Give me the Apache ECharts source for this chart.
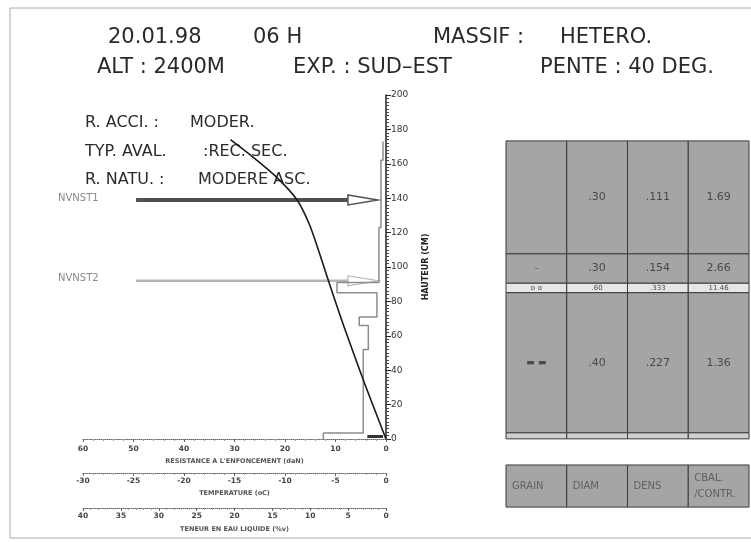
<!DOCTYPE html>
<html><head><meta charset="utf-8">
<script src="https://cdn.jsdelivr.net/npm/echarts@6/dist/echarts.min.js"></script>
<style>html,body{margin:0;padding:0;background:#fff}#c{width:751px;height:542px}</style>
</head><body><div id="c"></div>
<script>
// ---- data ----
const tempC = [0, -2.1, -4.2, -5.7, -6.7, -7.6, -8.8, -10.8, -13.2, -15.4];
const tempH = [0, 32, 66, 92, 110, 125, 139, 152, 164, 174];

const resBottom = [0, 3.5, 52, 66, 71, 85, 91, 123, 162];
const resTop    = [3.5, 52, 66, 71, 85, 91, 123, 162, 173];
const resValue  = [12.4, 4.5, 3.5, 5.3, 1.8, 9.7, 1.4, 1.0, 0.6];

const baseBar = [0.6, 3.7];
const baseBarH = 1.5;

const nvnstNames = ['NVNST1', 'NVNST2'];
const nvnstHeights = [139, 92];
const arrowFrom = 49.5;
const arrowTo = 1.6;

const tableTop    = [173.3, 107.6, 90.5, 85, 3.5];
const tableBottom = [107.6, 90.5, 85, 3.5, 0];
const grainCol = ['', '-', 'ɒ ɑ', '▬ ▬', ''];
const diamCol  = ['.30', '.30', '.60', '.40', ''];
const densCol  = ['.111', '.154', '.333', '.227', ''];
const cbalCol  = ['1.69', '2.66', '11.46', '1.36', ''];
const legendLabels = ['GRAIN', 'DIAM', 'DENS', 'CBAL.\n/CONTR.'];
const legendTop = -15.2, legendBottom = -39.7;

const header1 = [['20.01.98',108],['06 H',253],['MASSIF :',433],['HETERO.',560]];
const header2 = [['ALT : 2400M',97],['EXP. : SUD\u2013EST',293],['PENTE : 40 DEG.',540]];
const infoLines = [['R. ACCI. :','MODER.',190],['TYP. AVAL.',':REC. SEC.',203],['R. NATU. :','MODERE ASC.',198]];

// ---- build ----
const resPts = [];
resValue.forEach((v,i)=>{ resPts.push([v,resBottom[i]]); resPts.push([v,resTop[i]]); });
const tempPts = tempC.map((t,i)=>[t,tempH[i]]);
const tableCols = [grainCol, diamCol, densCol, cbalCol];
const tableData = [];
tableTop.forEach((t,r)=>{ for(let c=0;c<4;c++) tableData.push([c, tableBottom[r], t, r]); });
legendLabels.forEach((l,c)=>tableData.push([c, legendBottom, legendTop, 99]));

const chart = echarts.init(document.getElementById('c'), null, {renderer:'canvas'});
const FONT = '"DejaVu Sans", sans-serif';
function bottomAxis(extra){
  return Object.assign({
    gridIndex:0, type:'value', position:'bottom',
    axisLine:{show:true,lineStyle:{color:'#666',width:1,type:'dotted'}},
    axisTick:{show:true,length:3,lineStyle:{color:'#666'}},
    minorTick:{show:true,splitNumber:5,length:2,lineStyle:{color:'#999'}},
    axisLabel:{fontSize:7.5,fontWeight:'bold',color:'#444',margin:4,fontFamily:FONT},
    splitLine:{show:false},
    nameLocation:'middle',
    nameTextStyle:{fontSize:6.5,fontWeight:'bold',color:'#555',fontFamily:FONT}
  }, extra);
}

const graphics = [
  {type:'rect', shape:{x:10,y:8,width:760,height:530}, style:{fill:'none',stroke:'#aaa',lineWidth:1}, silent:true}
];
header1.forEach(([t,x])=>graphics.push({type:'text',x:x,y:38,style:{text:t,font:'21px '+FONT,fill:'#2a2a2a',verticalAlign:'middle',textVerticalAlign:'middle'}}));
header2.forEach(([t,x])=>graphics.push({type:'text',x:x,y:68,style:{text:t,font:'21px '+FONT,fill:'#2a2a2a',verticalAlign:'middle',textVerticalAlign:'middle'}}));
infoLines.forEach(([a,b,x2],i)=>{
  const y = 123 + i*28.5;
  graphics.push({type:'text',x:85,y:y,style:{text:a,font:'16px '+FONT,fill:'#2a2a2a',verticalAlign:'middle',textVerticalAlign:'middle'}});
  graphics.push({type:'text',x:x2,y:y,style:{text:b,font:'16px '+FONT,fill:'#2a2a2a',verticalAlign:'middle',textVerticalAlign:'middle'}});
});

const option = {
  animation:false,
  backgroundColor:'#fff',
  textStyle:{fontFamily:FONT},
  grid:[
    {left:83, right:365, top:95, bottom:103},
    {left:506, right:2, top:95, bottom:0}
  ],
  yAxis:[
    {gridIndex:0,type:'value',position:'right',min:0,max:200,interval:20,
     axisLine:{show:true,lineStyle:{color:'#222',width:1.5}},
     axisTick:{show:true,length:5,lineStyle:{color:'#222'}},
     minorTick:{show:true,splitNumber:10,length:3,lineStyle:{color:'#444'}},
     axisLabel:{fontSize:9,color:'#333',margin:5,fontFamily:FONT},
     splitLine:{show:false},
     name:'HAUTEUR (CM)',nameLocation:'middle',nameGap:36,nameRotate:90,
     nameTextStyle:{fontSize:8,fontWeight:'bold',color:'#222',fontFamily:FONT}},
    {gridIndex:1,type:'value',min:-60,max:200,show:false}
  ],
  xAxis:[
    bottomAxis({min:0,max:60,interval:10,inverse:true,offset:2,name:'RESISTANCE A L\'ENFONCEMENT (daN)',nameGap:17}),
    bottomAxis({min:-30,max:0,interval:5,offset:34,name:'TEMPERATURE (oC)',nameGap:17}),
    bottomAxis({min:0,max:40,interval:5,inverse:true,offset:69,name:'TENEUR EN EAU LIQUIDE (%v)',nameGap:18}),
    {gridIndex:1,type:'value',min:0,max:4,show:false}
  ],
  graphic:graphics,
  series:[
    {type:'line',xAxisIndex:0,yAxisIndex:0,data:resPts,symbol:'none',
     lineStyle:{color:'#8c8c8c',width:1.5}},
    {type:'line',xAxisIndex:0,yAxisIndex:0,data:[[baseBar[0],baseBarH],[baseBar[1],baseBarH]],symbol:'none',
     lineStyle:{color:'#333',width:3}},
    {type:'line',xAxisIndex:1,yAxisIndex:0,data:tempPts,symbol:'none',smooth:0.25,
     lineStyle:{color:'#1a1a1a',width:1.6}},
    {type:'custom',xAxisIndex:0,yAxisIndex:0,
     data:nvnstHeights.map((h,i)=>[arrowFrom,arrowTo,h,i]),
     encode:{x:[0,1],y:2},
     renderItem:function(params,api){
       const h = api.value(2), i = api.value(3);
       const p0 = api.coord([api.value(0),h]), p1 = api.coord([api.value(1),h]);
       const tl = 30, bx = p1[0]-tl, y = p0[1];
       const dark = i===0;
       const col = dark ? '#505050' : '#b4b4b4';
       return {type:'group',children:[
         {type:'line',shape:{x1:p0[0],y1:y,x2:bx,y2:y},style:{stroke:col,lineWidth:dark?4:2.5}},
         {type:'polygon',shape:{points:[[bx,y-5],[p1[0],y],[bx,y+5]]},style:{fill:'#fff',stroke:col,lineWidth:dark?1.5:1.2}},
         {type:'text',x:58,y:y-2,style:{text:nvnstNames[i],fill:'#8a8a8a',font:'10px '+FONT,verticalAlign:'middle',textVerticalAlign:'middle'}}
       ]};
     }},
    {type:'custom',xAxisIndex:3,yAxisIndex:1,data:tableData,
     encode:{x:0,y:[1,2]},
     renderItem:function(params,api){
       const c = api.value(0), b = api.value(1), t = api.value(2), r = api.value(3);
       const p0 = api.coord([c,t]), p1 = api.coord([c+1,b]);
       const w = p1[0]-p0[0], hh = p1[1]-p0[1];
       let fill = '#a5a5a5';
       if (r===2) fill = '#e6e6e6';
       if (r===4) fill = '#cfcfcf';
       const children = [{type:'rect',shape:{x:p0[0],y:p0[1],width:w,height:hh},style:{fill:fill,stroke:'#3a3a3a',lineWidth:1}}];
       let txt = '', fs = 11, align='center', tx = p0[0]+w/2;
       if (r===99){ txt = legendLabels[c]; fs = 10; align='left'; tx = p0[0]+6; }
       else { txt = tableCols[c][r]; if (r===2) fs = 7; if (c===0) fs = (r===2?7:9); }
       if (txt) children.push({type:'text',x:tx,y:p0[1]+hh/2,style:{text:txt,fill:r===99?'#606060':'#4a4a4a',
         font:(c===0&&r===3?'bold ':'')+fs+'px '+FONT,align:align,textAlign:align,verticalAlign:'middle',textVerticalAlign:'middle',lineHeight:fs+6}});
       return {type:'group',children:children};
     }}
  ]
};
chart.setOption(option);
</script>
</body></html>
